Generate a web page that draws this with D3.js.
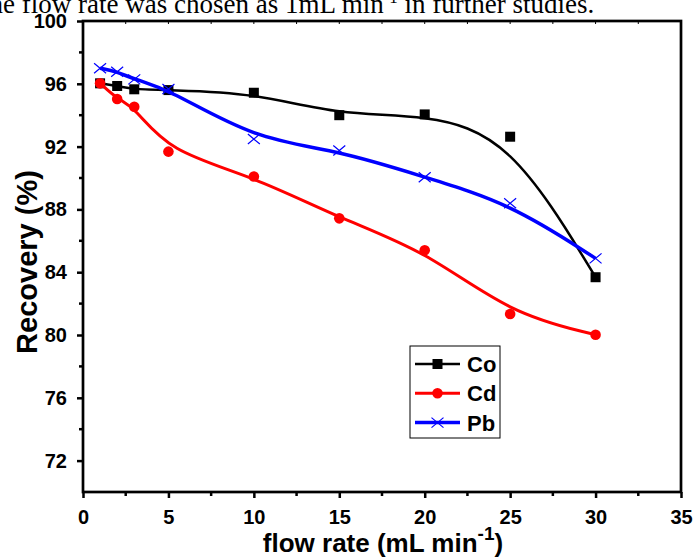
<!DOCTYPE html>
<html><head><meta charset="utf-8">
<script src="https://cdn.jsdelivr.net/npm/d3@7/dist/d3.min.js"></script>
<style>body{margin:0;background:#fff;}svg{display:block;}</style>
</head><body>
<script>
const flowRates = [1, 2, 3, 5, 10, 15, 20, 25, 30];
const coValues = [96.03, 95.86, 95.65, 95.6, 95.43, 94.0, 94.05, 92.63, 83.68];
const cdValues = [96.03, 95.03, 94.54, 91.68, 90.1, 87.43, 85.4, 81.34, 80.02];
const pbValues = [96.99, 96.77, 96.28, 95.67, 92.48, 91.75, 90.05, 88.39, 84.88];
const seriesNames = ["Co", "Cd", "Pb"];
const xTicks = [0, 5, 10, 15, 20, 25, 30, 35];
const yTicks = [72, 76, 80, 84, 88, 92, 96, 100];

const W = 693, H = 557;
const svg = d3.select("body").append("svg").attr("width", W).attr("height", H);
const x = d3.scaleLinear().domain([0, 35]).range([83, 681]);
const y = d3.scaleLinear().domain([70, 100]).range([492, 21]);
const font = "'Liberation Sans', Arial, sans-serif";

// caption fragment at top
const cap = svg.append("text").attr("x", -18).attr("y", 13)
  .attr("font-family", "'Liberation Serif', 'Times New Roman', serif").attr("font-size", 27).attr("fill", "#000");
cap.append("tspan").text("the flow rate was chosen as 1mL min");
cap.append("tspan").attr("dy", -10).attr("font-size", 17).text("-1");
cap.append("tspan").attr("dy", 10).text(" in further studies.");

// frame
svg.append("rect").attr("x", x(0)).attr("y", y(100)).attr("width", x(35) - x(0)).attr("height", y(70) - y(100))
  .attr("fill", "none").attr("stroke", "#000").attr("stroke-width", 2.7);

// bottom axis
const xAxis = d3.axisBottom(x).tickValues(xTicks).tickFormat(d3.format("d")).tickSize(6).tickPadding(12);
const gx = svg.append("g").attr("transform", `translate(0,${y(70)})`).call(xAxis);
gx.select(".domain").remove();
gx.selectAll(".tick line").attr("stroke-width", 2.5);
gx.selectAll("text").attr("font-family", font).attr("font-weight", "bold").attr("font-size", 20);
const xMinor = d3.range(2.5, 35, 5);
svg.append("g").selectAll("line").data(xMinor).join("line")
  .attr("x1", d => x(d)).attr("x2", d => x(d)).attr("y1", y(70)).attr("y2", y(70) + 4)
  .attr("stroke", "#000").attr("stroke-width", 2.5);
// top ticks inward
svg.append("g").selectAll("line").data(d3.range(2.5, 35, 2.5)).join("line")
  .attr("x1", d => x(d)).attr("x2", d => x(d)).attr("y1", y(100)).attr("y2", y(100) + 3)
  .attr("stroke", "#000").attr("stroke-width", 1);

// left axis
const yAxis = d3.axisLeft(y).tickValues(yTicks).tickFormat(d3.format("d")).tickSize(6).tickPadding(10);
const gy = svg.append("g").attr("transform", `translate(${x(0)},0)`).call(yAxis);
gy.select(".domain").remove();
gy.selectAll(".tick line").attr("stroke-width", 2.5);
gy.selectAll("text").attr("font-family", font).attr("font-weight", "bold").attr("font-size", 20);
const yMinor = d3.range(74, 100, 4);
svg.append("g").selectAll("line").data(yMinor).join("line")
  .attr("x1", x(0)).attr("x2", x(0) - 4).attr("y1", d => y(d)).attr("y2", d => y(d))
  .attr("stroke", "#000").attr("stroke-width", 2.5);

// axis titles
svg.append("text").attr("transform", `translate(37,${262}) rotate(-90)`).attr("text-anchor", "middle")
  .attr("font-family", font).attr("font-weight", "bold").attr("font-size", 29).text("Recovery (%)");
const xt = svg.append("text").attr("x", 383).attr("y", 552).attr("text-anchor", "middle")
  .attr("font-family", font).attr("font-weight", "bold").attr("font-size", 26);
xt.append("tspan").text("flow rate (mL min");
xt.append("tspan").attr("dy", -12).attr("font-size", 19).text("-1");
xt.append("tspan").attr("dy", 12).text(")");

// series
const series = [
  {name: seriesNames[0], values: coValues, color: "#000000", width: 2.5, marker: "square"},
  {name: seriesNames[1], values: cdValues, color: "#ff0000", width: 3, marker: "circle"},
  {name: seriesNames[2], values: pbValues, color: "#0000ff", width: 3.5, marker: "cross"}
];
const line = d3.line().x(d => x(d[0])).y(d => y(d[1])).curve(d3.curveBasis);

function drawMarker(g, type, color, cx, cy) {
  if (type === "square") {
    g.append("rect").attr("x", cx - 5).attr("y", cy - 5).attr("width", 10).attr("height", 10).attr("fill", color);
  } else if (type === "circle") {
    g.append("circle").attr("cx", cx).attr("cy", cy).attr("r", 5.3).attr("fill", color);
  } else {
    g.append("path").attr("d", `M${cx-6},${cy-5}L${cx+6},${cy+5}M${cx-6},${cy+5}L${cx+6},${cy-5}`)
      .attr("stroke", color).attr("stroke-width", 1.2).attr("fill", "none");
  }
}

series.forEach(s => {
  const pts = flowRates.map((f, i) => [f, s.values[i]]);
  svg.append("path").datum(pts).attr("d", line).attr("fill", "none")
    .attr("stroke", s.color).attr("stroke-width", s.width);
  const g = svg.append("g");
  pts.forEach(p => drawMarker(g, s.marker, s.color, x(p[0]), y(p[1])));
});

// legend
const lg = svg.append("g");
lg.append("rect").attr("x", 410).attr("y", 346).attr("width", 90).attr("height", 92)
  .attr("fill", "#fff").attr("stroke", "#000").attr("stroke-width", 1);
series.forEach((s, i) => {
  const ly = 364 + i * 29.3;
  lg.append("line").attr("x1", 415).attr("x2", 460).attr("y1", ly).attr("y2", ly)
    .attr("stroke", s.color).attr("stroke-width", s.width);
  drawMarker(lg, s.marker, s.color, 437.5, ly);
  lg.append("text").attr("x", 467).attr("y", ly + 8).attr("font-family", font).attr("font-weight", "bold")
    .attr("font-size", 22).text(s.name);
});
</script>
</body></html>
